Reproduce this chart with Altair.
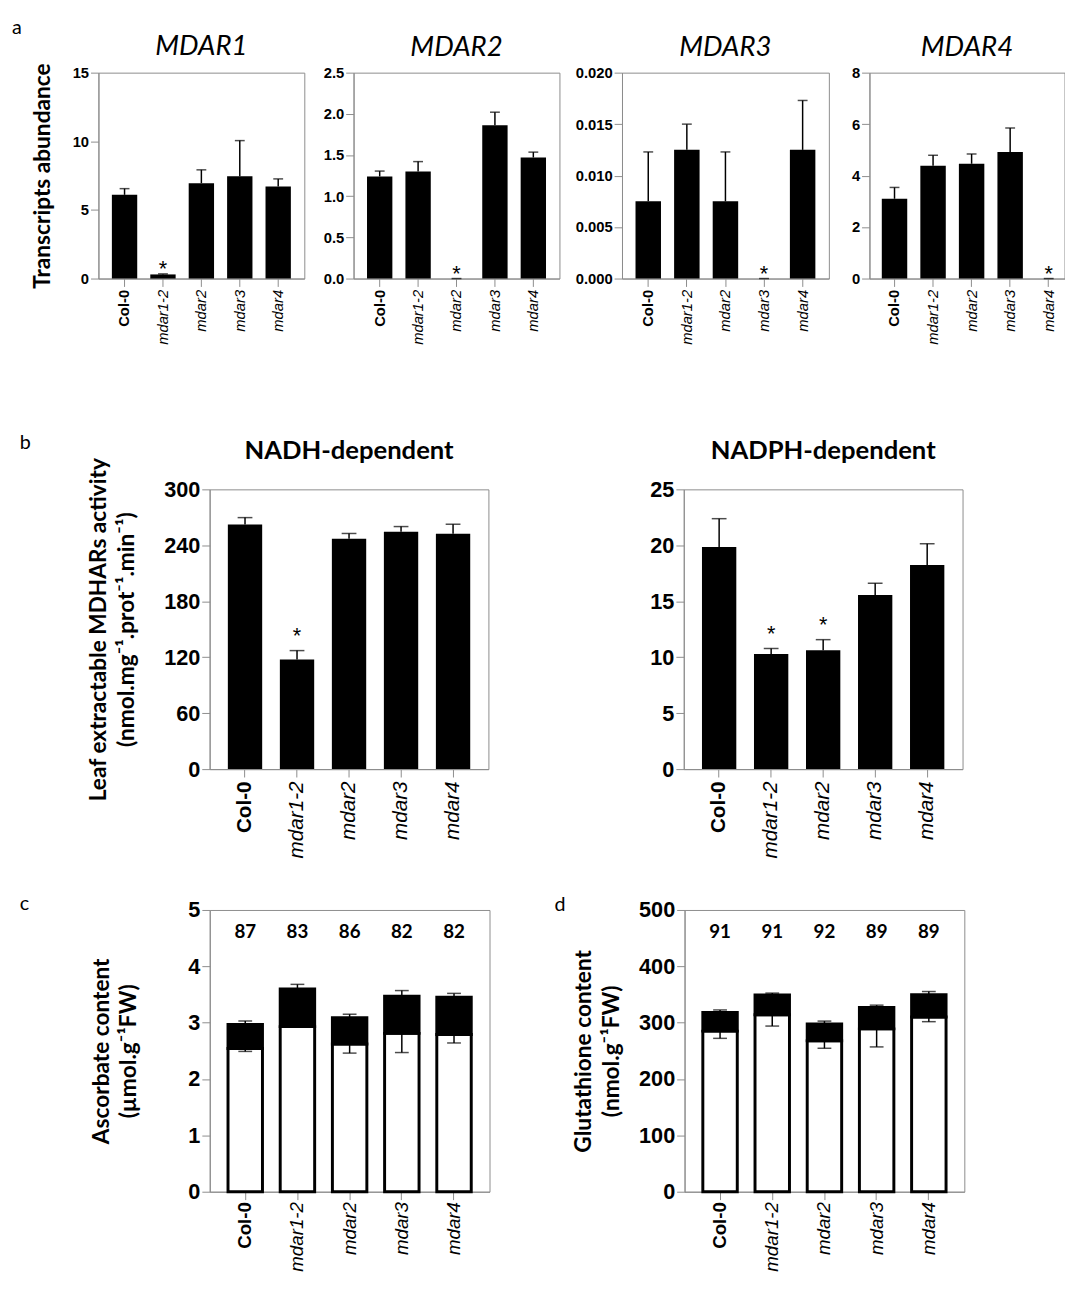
import altair as alt
import pandas as pd

genotypes = ["Col-0", "mdar1-2", "mdar2", "mdar3", "mdar4"]

# ---------------- panel a : transcripts abundance ----------------
mdar1_mean = [6.10, 0.30, 6.95, 7.45, 6.70]
mdar1_err = [0.45, 0.04, 0.97, 2.60, 0.56]
mdar1_sig = ["", "*", "", "", ""]

mdar2_mean = [1.24, 1.30, 0.0, 1.86, 1.47]
mdar2_err = [0.065, 0.12, 0.0, 0.16, 0.065]
mdar2_sig = ["", "", "*", "", ""]

mdar3_mean = [0.0075, 0.0125, 0.0075, 0.0, 0.0125]
mdar3_err = [0.0048, 0.0025, 0.0048, 0.0, 0.0048]
mdar3_sig = ["", "", "", "*", ""]

mdar4_mean = [3.10, 4.38, 4.46, 4.92, 0.0]
mdar4_err = [0.44, 0.41, 0.38, 0.93, 0.0]
mdar4_sig = ["", "", "", "", "*"]

mdar1_ticks = [0, 5, 10, 15]
mdar2_ticks = [0, 0.5, 1.0, 1.5, 2.0, 2.5]
mdar3_ticks = [0, 0.005, 0.010, 0.015, 0.020]
mdar4_ticks = [0, 2, 4, 6, 8]

# ---------------- panel b : MDHAR activity ----------------
nadh_mean = [262.3, 117.5, 247.1, 254.5, 252.4]
nadh_err = [7.4, 9.6, 5.6, 5.6, 10.2]
nadh_sig = ["", "*", "", "", ""]
nadh_ticks = [0, 60, 120, 180, 240, 300]

nadph_mean = [19.85, 10.28, 10.63, 15.55, 18.23]
nadph_err = [2.53, 0.50, 0.94, 1.06, 1.91]
nadph_sig = ["", "*", "*", "", ""]
nadph_ticks = [0, 5, 10, 15, 20, 25]

# ---------------- panel c : ascorbate ----------------
asc_total = [2.97, 3.60, 3.09, 3.47, 3.45]
asc_total_err = [0.06, 0.08, 0.06, 0.10, 0.07]
asc_reduced = [2.54, 2.93, 2.62, 2.81, 2.79]
asc_reduced_err = [0.05, 0.01, 0.16, 0.34, 0.15]
asc_pct = ["87", "83", "86", "82", "82"]
asc_ticks = [0, 1, 2, 3, 4, 5]

# ---------------- panel d : glutathione ----------------
glu_total = [318, 349, 297.5, 327, 349.5]
glu_total_err = [4.6, 3.5, 5.3, 4.1, 5.8]
glu_reduced = [285, 314, 268, 289, 310]
glu_reduced_err = [12.8, 20, 13.4, 32, 8.2]
glu_pct = ["91", "91", "92", "89", "89"]
glu_ticks = [0, 100, 200, 300, 400, 500]

GREY = "#8c8c8c"
TICKF = "Liberation Sans"
TITLEF = "Lato"
COL0 = "datum.value === 'Col-0'"


def xaxis(fs, pad):
    return alt.Axis(
        title=None, labelAngle=270, labelAlign="right", labelBaseline="middle",
        labelFont=TICKF, labelFontSize=fs, labelColor="black", labelPadding=pad,
        labelFontWeight={"condition": {"test": COL0, "value": "bold"}, "value": "normal"},
        labelFontStyle={"condition": {"test": COL0, "value": "normal"}, "value": "italic"},
        tickSize=8, tickColor=GREY, domainColor=GREY, labelOverlap=False,
    )


def yaxis(fs, vals, fmt, title=None, tfs=23, tpad=10, lh=28):
    kw = dict(values=vals, format=fmt, grid=False, labelFont=TICKF, labelFontSize=fs,
              labelFontWeight="bold", labelColor="black", labelPadding=2,
              tickSize=8, tickColor=GREY, domainColor=GREY)
    if title is None:
        kw["title"] = None
    else:
        kw.update(title=title, titleFont=TITLEF, titleFontSize=tfs, titleFontWeight="bold",
                  titleColor="black", titlePadding=tpad, titleLineHeight=lh)
    return alt.Axis(**kw)


def xenc(fs, pad, po=0.35, palign=0.5):
    return alt.X("g:N", sort=genotypes,
                 scale=alt.Scale(domain=genotypes, paddingInner=0.34, paddingOuter=po, align=palign),
                 axis=xaxis(fs, pad))


def with_title(chart, w, h, title):
    if title is None:
        return chart.properties(width=w, height=h)
    return chart.properties(width=w, height=h, title=title)


def simple_panel(mean, err, sig, ymax, yvals, yfmt, w, h, fs, xfs, xpad, cap, star_dy, title,
                 ytitle=None, tpad=10, po=0.35, palign=0.5):
    df = pd.DataFrame({"g": genotypes, "v": mean, "e": err, "s": sig})
    df["top"] = df["v"] + df["e"]
    x = xenc(xfs, xpad, po, palign)
    ysc = alt.Scale(domain=[0, ymax], nice=False)
    yax = yaxis(fs, yvals, yfmt, ytitle, 23, tpad)
    base = alt.Chart(df)
    bars = base.mark_bar(color="black").encode(x=x, y=alt.Y("v:Q", scale=ysc, axis=yax))
    rules = base.mark_rule(color="black", strokeWidth=1.5).encode(
        x=x, y=alt.Y("v:Q", scale=ysc, axis=yax), y2="top:Q")
    caps = base.mark_tick(color="black", size=cap, thickness=1.5).encode(
        x=x, y=alt.Y("top:Q", scale=ysc, axis=yax))
    stars = base.transform_filter("datum.s != ''").mark_text(
        font=TICKF, fontSize=22, baseline="alphabetic", dy=star_dy, color="black").encode(
        x=x, y=alt.Y("top:Q", scale=ysc, axis=yax), text="s:N")
    return with_title(alt.layer(bars, rules, caps, stars), w, h, title)


def redox_panel(tot, tot_err, red, red_err, pct, ymax, yvals, pct_y, w, h, title, ytitle, tpad):
    df = pd.DataFrame({"g": genotypes, "tot": tot, "te": tot_err, "red": red, "re": red_err, "pct": pct})
    df["hi"] = df["tot"] + df["te"]
    df["lo"] = df["red"] - df["re"]
    x = xenc(19, 2)
    ysc = alt.Scale(domain=[0, ymax], nice=False)
    yax = yaxis(22, yvals, "d", ytitle, 23, tpad)
    base = alt.Chart(df)
    white = base.mark_bar(fill="white", stroke="black", strokeWidth=3).encode(
        x=x, y=alt.Y("red:Q", scale=ysc, axis=yax))
    black = base.mark_bar(fill="black", stroke="black", strokeWidth=3).encode(
        x=x, y=alt.Y("red:Q", scale=ysc, axis=yax), y2="tot:Q")
    r_up = base.mark_rule(color="black", strokeWidth=1.5).encode(
        x=x, y=alt.Y("tot:Q", scale=ysc, axis=yax), y2="hi:Q")
    c_up = base.mark_tick(color="black", size=14, thickness=1.5).encode(
        x=x, y=alt.Y("hi:Q", scale=ysc, axis=yax))
    r_dn = base.mark_rule(color="black", strokeWidth=1.5).encode(
        x=x, y=alt.Y("lo:Q", scale=ysc, axis=yax), y2="red:Q")
    c_dn = base.mark_tick(color="black", size=14, thickness=1.5).encode(
        x=x, y=alt.Y("lo:Q", scale=ysc, axis=yax))
    pct_txt = base.mark_text(font=TITLEF, fontSize=19, fontWeight="bold", baseline="middle",
                             color="black").encode(
        x=x, y=alt.YDatum(pct_y, type="quantitative", scale=ysc, axis=yax), text="pct:N")
    return with_title(alt.layer(white, black, r_up, c_up, r_dn, c_dn, pct_txt), w, h, title)


def gene_title(t, off):
    return alt.TitleParams(t, font=TITLEF, fontSize=28, fontStyle="italic", fontWeight="normal",
                           anchor="middle", baseline="alphabetic", offset=off, color="black")


def act_title(t, off):
    return alt.TitleParams(t, font=TITLEF, fontSize=26, fontWeight="bold",
                           anchor="middle", baseline="alphabetic", offset=off, color="black")


def letter(t, dx, off, frame=None):
    kw = dict(font=TITLEF, fontSize=20, fontWeight="normal", anchor="start",
              baseline="alphabetic", dx=dx, offset=off, color="black")
    if frame:
        kw["frame"] = frame
    return alt.TitleParams(t, **kw)


def spacer():
    return alt.Chart(pd.DataFrame({"v": []})).mark_point(opacity=0).encode(
        x=alt.X("v:Q", axis=None), y=alt.Y("v:Q", axis=None)
    ).properties(width=1, height=1, view=alt.ViewBackground(strokeWidth=0))


m1 = simple_panel(mdar1_mean, mdar1_err, mdar1_sig, 15, mdar1_ticks, "d", 209, 209, 15, 15, 3, 10, 2,
                  gene_title("MDAR1", -20.5), ytitle="Transcripts abundance", tpad=17.5)
m2 = simple_panel(mdar2_mean, mdar2_err, mdar2_sig, 2.5, mdar2_ticks, ".1f", 209, 209, 15, 15, 3, 10, 2,
                  gene_title("MDAR2", -18.5))
m3 = simple_panel(mdar3_mean, mdar3_err, mdar3_sig, 0.020, mdar3_ticks, ".3f", 210, 209, 15, 15, 3, 10, 2,
                  gene_title("MDAR3", -18.5))
m4 = simple_panel(mdar4_mean, mdar4_err, mdar4_sig, 8, mdar4_ticks, "d", 198, 209, 15, 15, 3, 10, 2,
                  gene_title("MDAR4", -18.5), po=0.2, palign=0.8)

inner_a = alt.hconcat(alt.hconcat(alt.hconcat(m1, m2, spacing=17), m3, spacing=13.5), m4, spacing=21.7)
row_a = alt.hconcat(spacer(), inner_a, spacing=18.8).properties(title=letter("a", 0, -20.4))

nadh = simple_panel(nadh_mean, nadh_err, nadh_sig, 300, nadh_ticks, "d", 283, 284, 22, 21, 4, 15, -8,
                    act_title("NADH-dependent", -28),
                    ytitle=["Leaf extractable MDHARs activity",
                            "(nmol.mg\u207b\u00b9.prot\u207b\u00b9.min\u207b\u00b9)"],
                    tpad=25.6)
nadph = simple_panel(nadph_mean, nadph_err, nadph_sig, 25, nadph_ticks, "d", 283, 284, 22, 21, 4, 15, -8,
                     act_title("NADPH-dependent", -6))

row_b = alt.hconcat(spacer(), alt.hconcat(nadh, nadph, spacing=162.3), spacing=75.7).properties(
    title=letter("b", 8, -31.8))

asc = redox_panel(asc_total, asc_total_err, asc_reduced, asc_reduced_err, asc_pct, 5, asc_ticks, 4.6,
                  284, 286, None, ["Ascorbate content", "(\u00b5mol.g\u207b\u00b9FW)"], 48)
glu = redox_panel(glu_total, glu_total_err, glu_reduced, glu_reduced_err, glu_pct, 500, glu_ticks, 460,
                  284, 286, letter("d", -132, -32, frame="group"),
                  ["Glutathione content", "(nmol.g\u207b\u00b9FW)"], 15.5)

row_c = alt.hconcat(spacer(), alt.hconcat(asc, glu, spacing=64), spacing=77.8).properties(
    title=letter("c", 8, -36))

chart = alt.vconcat(
    alt.vconcat(row_a, row_b, spacing=89), row_c, spacing=36
).configure_view(
    stroke=GREY, strokeWidth=1
).properties(padding={"left": 4, "top": 0, "right": 0, "bottom": 0})

chart.save("out.html", embed_options={"renderer": "svg", "actions": False})
